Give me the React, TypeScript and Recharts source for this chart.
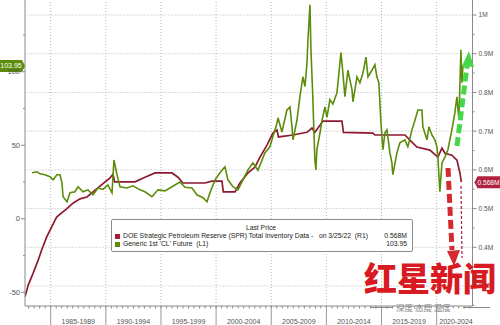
import React from "react";
import { ComposedChart, Line, XAxis, YAxis, ReferenceLine, ReferenceDot } from "recharts";

// DOE SPR total inventory (millions of barrels), right axis
const sprYears = [
  1982.67, 1982.97, 1983.42, 1983.88, 1984.18, 1984.64, 1985.09, 1985.54, 1986.0, 1986.45,
  1987.02, 1987.66, 1988.29, 1989.47, 1990.38, 1990.65, 1990.8, 1992.64, 1993.55, 1994.46,
  1996.0, 1996.54, 1996.99, 1998.99, 1999.62, 2000.53, 2000.65, 2001.71, 2002.16, 2002.89,
  2003.52, 2003.98, 2004.61, 2005.15, 2005.52, 2005.65, 2006.97, 2008.24, 2008.69, 2008.96,
  2009.42, 2009.69, 2011.41, 2011.55, 2014.22, 2014.4, 2017.12, 2017.58, 2018.21, 2019.39,
  2020.11, 2020.48, 2020.75, 2021.38, 2021.84, 2022.11, 2022.24,
];
const sprValues = [
  0.272, 0.303, 0.334, 0.368, 0.393, 0.427, 0.453, 0.478, 0.489, 0.499,
  0.514, 0.525, 0.53, 0.558, 0.579, 0.589, 0.569, 0.569, 0.581, 0.592,
  0.592, 0.581, 0.566, 0.566, 0.571, 0.571, 0.543, 0.543, 0.566, 0.592,
  0.607, 0.633, 0.664, 0.695, 0.703, 0.685, 0.69, 0.697, 0.708, 0.697,
  0.715, 0.726, 0.726, 0.697, 0.695, 0.69, 0.69, 0.677, 0.659, 0.651,
  0.633, 0.656, 0.643, 0.638, 0.625, 0.592, 0.568,
];

// Generic 1st 'CL' future (USD), left axis
const clYears = [
  1983.3, 1983.76, 1984.03, 1984.48, 1984.94, 1985.21, 1985.57, 1985.84, 1986.02, 1986.12,
  1986.48, 1986.75, 1987.2, 1987.48, 1987.93, 1988.38, 1988.84, 1989.29, 1989.74, 1990.19,
  1990.56, 1990.74, 1991.01, 1991.28, 1991.92, 1992.46, 1993.1, 1993.55, 1994.18, 1994.73,
  1995.36, 1996.0, 1996.72, 1997.18, 1997.81, 1998.26, 1998.81, 1999.17, 1999.44, 1999.9,
  2000.35, 2000.8, 2001.07, 2001.53, 2001.98, 2002.43, 2002.89, 2003.34, 2003.79, 2004.43,
  2004.88, 2005.15, 2005.52, 2005.61, 2005.97, 2006.42, 2006.7, 2006.88, 2006.97, 2007.33,
  2007.6, 2007.87, 2008.06, 2008.24, 2008.33, 2008.51, 2008.6, 2008.78, 2008.87, 2008.96,
  2009.05, 2009.14, 2009.42, 2009.6, 2009.87, 2010.05, 2010.32, 2010.59, 2010.96, 2011.32,
  2011.5, 2011.68, 2011.95, 2012.32, 2012.41, 2012.77, 2013.04, 2013.31, 2013.59, 2013.77,
  2014.13, 2014.4, 2014.58, 2014.76, 2014.95, 2015.13, 2015.31, 2015.49, 2015.76, 2015.94,
  2016.03, 2016.4, 2016.67, 2017.12, 2017.39, 2017.76, 2018.03, 2018.3, 2018.66, 2018.75,
  2019.12, 2019.3, 2019.57, 2019.84, 2020.02, 2020.11, 2020.29, 2020.48, 2020.75, 2021.02,
  2021.38, 2021.65, 2021.84, 2022.02, 2022.2, 2022.29, 2022.38,
];
const clValues = [
  31.3, 32, 30.6, 30, 28.6, 26.5, 30, 30, 24.5, 15,
  11.6, 17.7, 18.4, 21.8, 18.4, 19.7, 16.3, 21, 20, 23,
  17.7, 40, 30, 21.8, 21, 22.4, 19.7, 18.4, 15, 19.7,
  19, 21.8, 25, 21.5, 21, 16.3, 14.3, 11.6, 17.7, 26.5,
  31.3, 35.4, 26.5, 21.8, 19.7, 26.5, 33.3, 38, 33, 45,
  49, 56, 65, 68.7, 59, 74, 76, 62.6, 53.7, 67,
  83, 96.6, 90, 106, 121.8, 145.6, 115, 81, 58.5, 40,
  33.3, 47, 58.5, 67, 76, 69, 81, 78, 85.7, 113,
  99, 83, 101, 87.8, 79.6, 96.6, 92.5, 99, 110, 96.6,
  101, 104.8, 96.6, 92.5, 65, 47, 58.5, 60.5, 45, 38,
  30, 45, 51.7, 53.7, 49, 60.5, 67, 74, 74, 62.6,
  53.7, 62.6, 57, 53.7, 49, 42, 18.4, 38, 42, 47,
  60.5, 72, 83, 67, 115, 92.5, 103.95,
];

const periodStarts = [1985, 1990, 1995, 2000, 2005, 2010, 2015, 2020];
const periodLabels = [
  "1985-1989", "1990-1994", "1995-1999", "2000-2004",
  "2005-2009", "2010-2014", "2015-2019", "2020-2024",
];
const leftTicks = [-50, -25, 0, 25, 50, 75, 100, 125];
const rightTicks = [0.25, 0.3, 0.35, 0.4, 0.45, 0.5, 0.55, 0.6, 0.65, 0.7, 0.75, 0.8, 0.85, 0.9, 0.95, 1.0];
const rightGrid = [0.3, 0.4, 0.5, 0.6, 0.7, 0.8, 0.9, 1.0];

const lastSpr = 0.568;
const lastCl = 103.95;

const xDomain: [number, number] = [1982.67, 2023.25];
const halfYearTicks: number[] = [];
for (let y = 1983; y <= 2023; y += 0.5) halfYearTicks.push(y);

const spr = sprYears.map((year, i) => ({ year, spr: sprValues[i] }));
const cl = clYears.map((year, i) => ({ year, cl: clValues[i] }));

const RED = "#8f1a30";
const GREEN = "#5b8c0a";
const AXIS = "#8a8a8a";
const TEXT = "#555";
const FONT = '"Liberation Sans", Arial, sans-serif';

const LeftTick = ({ x, y, payload }: any) => {
  const v = payload.value;
  const major = v % 50 === 0;
  return (
    <g>
      <line x1={x - (major ? 4 : 2)} x2={x} y1={y} y2={y} stroke={AXIS} />
      {major && (
        <text x={x - 5} y={y} dy={2.6} textAnchor="end" fontSize={7.5} fill={TEXT} fontFamily={FONT}>
          {v}
        </text>
      )}
    </g>
  );
};

const RightTick = ({ x, y, payload }: any) => {
  const v = payload.value;
  const major = Math.round(v * 100) % 10 === 0 && v > 0.26;
  return (
    <g>
      <line x1={x} x2={x + (major ? 4 : 2)} y1={y} y2={y} stroke={AXIS} />
      {major && (
        <text x={x + 6} y={y} dy={2.4} fontSize={6.6} fill={TEXT} fontFamily={FONT}>
          {v >= 0.999 ? "1M" : `${v.toFixed(1)}M`}
        </text>
      )}
    </g>
  );
};

const BottomTick = ({ x, y, payload }: any) => {
  const v = payload.value;
  const idx = periodStarts.indexOf(v - 2.5);
  return (
    <g>
      <line x1={x} x2={x} y1={y} y2={y + 2.5} stroke={AXIS} />
      {periodStarts.includes(v) && <line x1={x} x2={x} y1={y} y2={y + 19} stroke="#9a9a9a" />}
      {idx >= 0 && (
        <text x={Math.min(x, 456)} y={y + 17.5} textAnchor="middle" fontSize={7} fill={TEXT} fontFamily={FONT}>
          {periodLabels[idx]}
        </text>
      )}
    </g>
  );
};

const GreenTag = ({ cx, cy }: any) => (
  <g>
    <polygon
      points={`${cx - 25},${cy - 6} ${cx - 3},${cy - 6} ${cx},${cy} ${cx - 3},${cy + 6} ${cx - 25},${cy + 6}`}
      fill={GREEN}
    />
    <text x={cx - 14} y={cy} dy={2.5} textAnchor="middle" fontSize={7} fill="#fff" fontFamily={FONT}>
      {lastCl.toFixed(2)}
    </text>
  </g>
);

const RedTag = ({ cx, cy }: any) => (
  <g>
    <polygon
      points={`${cx + 2},${cy} ${cx + 5},${cy - 6} ${cx + 28},${cy - 6} ${cx + 28},${cy + 6} ${cx + 5},${cy + 6}`}
      fill="#b0213f"
    />
    <text x={cx + 16} y={cy} dy={2.4} textAnchor="middle" fontSize={6.6} fill="#fff" fontFamily={FONT}>
      {`${lastSpr}M`}
    </text>
  </g>
);

function LegendBox() {
  const row: React.CSSProperties = { display: "flex", alignItems: "center", height: 8, lineHeight: "8px" };
  const sq = (c: string): React.CSSProperties => ({ width: 5, height: 5, background: c, marginRight: 3, flexShrink: 0 });
  return (
    <div
      style={{
        position: "absolute", left: 111, top: 219, width: 302, height: 33, boxSizing: "border-box",
        border: "1px solid #8c8c8c", borderRadius: 2, background: "#fff",
        fontFamily: FONT, fontSize: 6.8, color: "#222", padding: "4px 5px 0 3px",
      }}
    >
      <div style={{ textAlign: "center", height: 8, lineHeight: "8px" }}>Last Price</div>
      <div style={row}>
        <span style={sq("#a51c3a")} />
        <span style={{ flex: 1, whiteSpace: "pre" }}>
          {"DOE Strategic Petroleum Reserve (SPR) Total Inventory Data -   on 3/25/22  (R1)"}
        </span>
        <span>{`${lastSpr}M`}</span>
      </div>
      <div style={row}>
        <span style={sq(GREEN)} />
        <span style={{ flex: 1, whiteSpace: "pre" }}>{"Generic 1st 'CL' Future  (L1)"}</span>
        <span>{lastCl.toFixed(2)}</span>
      </div>
    </div>
  );
}

function Annotations() {
  return (
    <svg width={500} height={325} style={{ position: "absolute", left: 0, top: 0, pointerEvents: "none" }}>
      <line x1={457} y1={146} x2={467} y2={66} stroke="#45d64a" strokeWidth={5} strokeDasharray="9 4" />
      <polygon points="469,51 462,66 474,67" fill="#45d64a" />
      <line x1={448} y1={168} x2={452} y2={250} stroke="#d42a30" strokeWidth={5} strokeDasharray="9 4" />
      <polygon points="454,266 447,251 460,250" fill="#d42a30" />
      <line x1={461} y1={186} x2={462} y2={258} stroke="#a02040" strokeWidth={1.2} strokeDasharray="3 2" />
    </svg>
  );
}

function Watermark() {
  return (
    <>
      <div
        style={{
          position: "absolute", left: 364, top: 261, fontFamily: '"Noto Sans CJK SC"', fontWeight: 900,
          color: "#d81a22", fontSize: 33, lineHeight: 1, whiteSpace: "nowrap",
        }}
      >
        红星新闻
      </div>
      <div style={{ position: "absolute", left: 370, top: 307, width: 23, height: 1, background: "#888" }} />
      <div
        style={{
          position: "absolute", left: 396, top: 302, fontFamily: '"Noto Sans CJK SC"', fontSize: 8.5,
          color: "#888", lineHeight: "10px", whiteSpace: "pre",
        }}
      >
        深度 态度 温度
      </div>
      <div style={{ position: "absolute", left: 463, top: 307, width: 27, height: 1, background: "#888" }} />
    </>
  );
}

export default function App() {
  return (
    <div style={{ position: "absolute", left: 0, top: 0, width: 500, height: 325, background: "#fff", overflow: "hidden" }}>
      <ComposedChart width={500} height={325} margin={{ top: 0, right: 0, bottom: 0, left: 0 }}>
        <XAxis
          dataKey="year"
          type="number"
          domain={xDomain}
          ticks={halfYearTicks}
          interval={0}
          allowDataOverflow
          height={19}
          tickSize={0}
          tickMargin={0}
          tick={BottomTick}
          axisLine={{ stroke: AXIS }}
        />
        <YAxis
          yAxisId="left"
          orientation="left"
          width={25}
          domain={[-59.3, 148.8]}
          ticks={leftTicks}
          interval={0}
          allowDataOverflow
          tickSize={0}
          tickMargin={0}
          tick={LeftTick}
          axisLine={{ stroke: AXIS }}
        />
        <YAxis
          yAxisId="right"
          orientation="right"
          width={27.5}
          domain={[0.2483, 1.0388]}
          ticks={rightTicks}
          interval={0}
          allowDataOverflow
          tickSize={0}
          tickMargin={0}
          tick={RightTick}
          axisLine={{ stroke: AXIS }}
        />
        {rightGrid.map((v) => (
          <ReferenceLine key={`h${v}`} yAxisId="right" y={v} stroke="#b5b5b5" strokeDasharray="1 2" />
        ))}
        {periodStarts.map((v) => (
          <ReferenceLine key={`v${v}`} yAxisId="left" x={v} stroke="#b5b5b5" strokeDasharray="1 2" />
        ))}
        <Line
          data={spr}
          yAxisId="right"
          dataKey="spr"
          type="linear"
          stroke={RED}
          strokeWidth={1.7}
          dot={false}
          activeDot={false}
          isAnimationActive={false}
        />
        <Line
          data={cl}
          yAxisId="left"
          dataKey="cl"
          type="linear"
          stroke={GREEN}
          strokeWidth={1.6}
          dot={false}
          activeDot={false}
          isAnimationActive={false}
        />
        <ReferenceDot x={xDomain[0]} y={lastCl} yAxisId="left" ifOverflow="visible" shape={GreenTag} />
        <ReferenceDot x={xDomain[1]} y={lastSpr} yAxisId="right" ifOverflow="visible" shape={RedTag} />
      </ComposedChart>
      <LegendBox />
      <Annotations />
      <Watermark />
    </div>
  );
}
